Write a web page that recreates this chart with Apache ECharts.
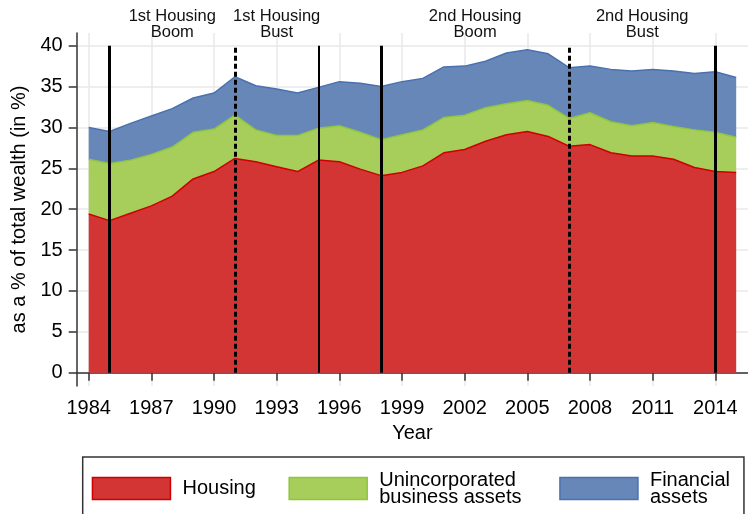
<!DOCTYPE html>
<html>
<head>
    <meta charset="UTF-8">
    <title>Wealth composition</title>
    <style type="text/css">
        *{ margin: 0; padding: 0; }
        #main{ width: 748px; height: 514px; }
    </style>
    <script src="https://cdn.jsdelivr.net/npm/echarts@6.0.0/dist/echarts.min.js" type="text/javascript" charset="utf-8"></script>
</head>
<body>
<div id="main"></div>
<script type="text/javascript">
    // data (share of total wealth, %)
    var years = [1984,1985,1986,1987,1988,1989,1990,1991,1992,1993,1994,1995,1996,1997,1998,1999,
                 2000,2001,2002,2003,2004,2005,2006,2007,2008,2009,2010,2011,2012,2013,2014,2015];
    var housing = [19.4,18.6,19.5,20.4,21.6,23.7,24.6,26.2,25.8,25.2,24.6,26.0,25.8,24.9,24.1,24.5,
                   25.3,26.9,27.3,28.3,29.1,29.5,28.9,27.7,27.9,26.9,26.5,26.5,26.1,25.1,24.6,24.5];
    var business = [6.7,7.0,6.5,6.3,6.0,5.7,5.2,5.3,3.9,3.8,4.4,3.9,4.4,4.5,4.4,4.6,
                    4.4,4.3,4.2,4.1,3.8,3.8,3.8,3.4,3.9,3.8,3.7,4.1,4.0,4.6,4.8,4.3];
    var financial = [3.9,3.9,4.5,4.7,4.7,4.2,4.4,4.7,5.4,5.7,5.2,5.0,5.4,6.0,6.5,6.5,
                     6.3,6.2,6.0,5.7,6.2,6.2,6.3,6.2,5.7,6.4,6.7,6.5,6.8,6.9,7.4,7.3];
    var xTicks = [1984,1987,1990,1993,1996,1999,2002,2005,2008,2011,2014];
    var yTicks = [0,5,10,15,20,25,30,35,40];
    var eventYears = [1985, 1991, 1995, 1998, 2007, 2014];
    var dashedYears = [1991, 2007];
    var periods = [[1985, 1991], [1991, 1995], [1998, 2007], [2007, 2014]];
    var periodNames = ['1st Housing\nBoom', '1st Housing\nBust', '2nd Housing\nBoom', '2nd Housing\nBust'];

    var font = 'Liberation Sans, Arial, Helvetica, sans-serif';
    var colors = {
        Housing: ['#d33434', '#cc0000'],
        'Unincorporated business assets': ['#a7ce5a', '#8ec63f'],
        'Financial assets': ['#6787b8', '#4a71af']
    };

    // value first so the stack adds up the shares, not the years
    function pairs(vals) {
        return years.map(function (y, i) { return [vals[i], y]; });
    }

    function areaSeries(name, vals) {
        var c = colors[name];
        return {
            name: name,
            type: 'line',
            stack: 'w',
            symbol: 'none',
            encode: { x: 1, y: 0 },
            data: pairs(vals),
            itemStyle: { color: c[0], borderColor: c[1], borderWidth: 1.5 },
            lineStyle: { color: c[1], width: 1.5 },
            areaStyle: { color: c[0], opacity: 1 }
        };
    }

    var eventLines = eventYears.map(function (y) {
        var dashed = dashedYears.indexOf(y) >= 0;
        return [
            { coord: [y, 0], lineStyle: { color: '#000', width: y === 1995 ? 2 : 3, type: dashed ? [5, 3] : 'solid' } },
            { coord: [y, 40] }
        ];
    });

    var periodAreas = periods.map(function (p, i) {
        return [
            { name: periodNames[i], coord: [p[0], 0] },
            { coord: [p[1], 40] }
        ];
    });

    var myChart = echarts.init(document.getElementById('main'));

    var s1 = areaSeries('Housing', housing);
    var s2 = areaSeries('Unincorporated business assets', business);
    var s3 = areaSeries('Financial assets', financial);
    s3.markLine = {
        silent: true,
        symbol: ['none', 'none'],
        label: { show: false },
        data: eventLines
    };
    s3.markArea = {
        silent: true,
        itemStyle: { color: 'rgba(0,0,0,0)' },
        label: {
            show: true,
            position: 'top',
            distance: 5,
            fontSize: 16.5,
            lineHeight: 16,
            color: '#111',
            align: 'center',
            fontFamily: font
        },
        data: periodAreas
    };

    var option = {
        animation: false,
        textStyle: { fontFamily: font },
        grid: { left: 76.7, right: 0, top: 33, bottom: 128 },
        xAxis: {
            type: 'value',
            min: 1983.425,
            max: 2015.565,
            name: 'Year',
            nameLocation: 'middle',
            nameGap: 37,
            nameTextStyle: { fontSize: 20, color: '#000', fontFamily: font },
            axisLine: { lineStyle: { color: '#333', width: 1.5 } },
            axisTick: { length: 8, lineStyle: { color: '#333', width: 1.5 }, customValues: xTicks },
            axisLabel: {
                fontSize: 20, color: '#000', margin: 12, fontFamily: font, customValues: xTicks,
                formatter: function (v) { return String(v); }
            },
            splitLine: { show: true, lineStyle: { color: '#e9e9e9', width: 1.5 } }
        },
        yAxis: {
            type: 'value',
            min: -1.63,
            max: 41.55,
            name: 'as a % of total wealth (in %)',
            nameLocation: 'middle',
            nameGap: 45,
            nameTextStyle: { fontSize: 20, color: '#000', fontFamily: font },
            axisLine: { show: true, lineStyle: { color: '#333', width: 1.5 } },
            axisTick: { show: true, length: 8, lineStyle: { color: '#333', width: 1.5 }, customValues: yTicks },
            axisLabel: { fontSize: 20, color: '#000', margin: 14, fontFamily: font, customValues: yTicks },
            splitLine: { show: true, lineStyle: { color: '#e9e9e9', width: 1.5 } }
        },
        legend: {
            left: 82.7,
            top: 457,
            orient: 'horizontal',
            itemGap: 0,
            itemWidth: 78,
            itemHeight: 22,
            padding: [13, 9, 24, 9],
            borderColor: '#333',
            borderWidth: 1.5,
            data: Object.keys(colors).map(function (name) {
                return {
                    name: name,
                    icon: 'rect',
                    itemStyle: { color: colors[name][0], borderColor: colors[name][1], borderWidth: 1.5 }
                };
            }),
            formatter: function (name) {
                if (name === 'Housing') return '{h|Housing}';
                if (name === 'Financial assets') return '{f|Financial}\n{f|assets}';
                return '{u|Unincorporated}\n{u|business assets}';
            },
            textStyle: {
                fontSize: 20,
                color: '#000',
                fontFamily: font,
                padding: [0, 0, 0, 7],
                rich: {
                    h: { width: 106, fontSize: 20, lineHeight: 17, fontFamily: font },
                    u: { width: 180, fontSize: 20, lineHeight: 17, fontFamily: font },
                    f: { width: 85, fontSize: 20, lineHeight: 17, fontFamily: font }
                }
            }
        },
        series: [s1, s2, s3]
    };
    myChart.setOption(option);
</script>
</body>
</html>
